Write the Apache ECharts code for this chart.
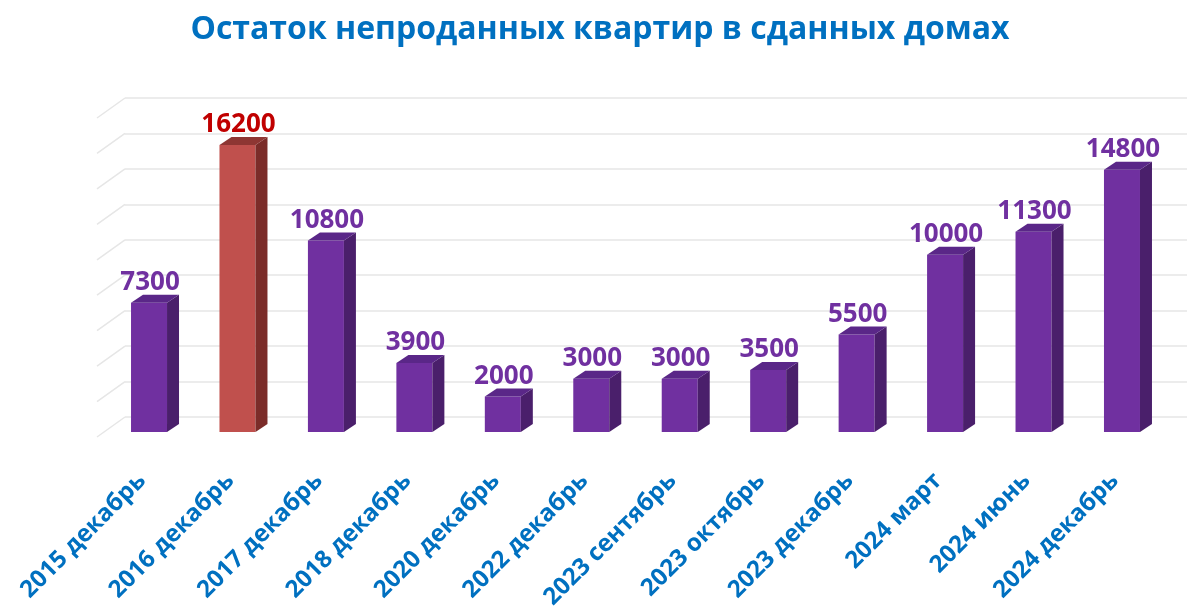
<!DOCTYPE html>
<html>
<head>
<meta charset="utf-8">
<script src="https://cdn.jsdelivr.net/npm/echarts@6/dist/echarts.min.js"></script>
<style>html,body{margin:0;padding:0;background:#fff}#c{width:1200px;height:616px}</style>
</head>
<body>
<div id="c"></div>
<script>
const categories = ['2015 декабрь','2016 декабрь','2017 декабрь','2018 декабрь','2020 декабрь','2022 декабрь','2023 сентябрь','2023 октябрь','2023 декабрь','2024 март','2024 июнь','2024 декабрь'];
const values = [7300,16200,10800,3900,2000,3000,3000,3500,5500,10000,11300,14800];
const highlightIndex = 1;
const gridTicks = [0,2000,4000,6000,8000,10000,12000,14000,16000,18000];

const FONT = '"Open Sans", "Noto Sans", sans-serif';
const purple = {front:'#7030a0', side:'#4a1f6b', top:'#5a2788', label:'#7030a0'};
const red = {front:'#c0504d', side:'#7b2c29', top:'#8e3633', label:'#c00000'};

const chart = echarts.init(document.getElementById('c'), null, {renderer:'canvas'});
chart.setOption({
  backgroundColor:'#ffffff',
  animation:false,
  title:{
    text:'Остаток непроданных квартир в сданных домах',
    left:'center', top:9,
    textStyle:{color:'#0070c0', fontSize:32, fontWeight:'bold', fontFamily:FONT}
  },
  grid:[
    {left:125, right:13, top:98, bottom:199, containLabel:false, outerBoundsMode:'none'},
    {left:104.8, right:33.8, top:113, bottom:184, containLabel:false, outerBoundsMode:'none'}
  ],
  xAxis:[
    {gridIndex:0, type:'value', min:0, max:1, show:false},
    {gridIndex:1, type:'category', data:categories,
     axisLine:{show:false}, axisTick:{show:false},
     axisLabel:{rotate:45, interval:0, margin:38, padding:[0,10,0,0], color:'#0070c0', fontSize:24, fontWeight:'bold', fontFamily:FONT}}
  ],
  yAxis:[
    {gridIndex:0, type:'value', min:0, max:18000, interval:2000,
     axisLine:{show:false}, axisTick:{show:false}, axisLabel:{show:false},
     splitLine:{lineStyle:{color:'#e6e6e6', width:1.5}}},
    {gridIndex:1, type:'value', min:0, max:18000, interval:2000, show:false, splitLine:{show:false}}
  ],
  series:[
    {
      type:'custom', xAxisIndex:0, yAxisIndex:0, silent:true, clip:false,
      data: gridTicks.map(v=>[0,v]),
      renderItem(params, api){
        const p = api.coord([0, api.value(1)]);
        return {type:'line', shape:{x1:p[0], y1:p[1], x2:p[0]-28, y2:p[1]+20},
          style:{stroke:'#e6e6e6', lineWidth:1.5}};
      }
    },
    {
      type:'custom', xAxisIndex:1, yAxisIndex:1, clip:false,
      data: values.map((v,i)=>[i,v]),
      renderItem(params, api){
        const i = api.value(0), v = api.value(1);
        const base = api.coord([i, 0]);
        const top = api.coord([i, v]);
        const x = base[0], y0 = base[1], y1 = top[1];
        const w = 36, dx = 12, dy = 8;
        const l = x - w/2, r = x + w/2;
        const c = i === highlightIndex ? red : purple;
        return {type:'group', children:[
          {type:'rect', shape:{x:l, y:y1, width:w, height:y0-y1}, style:{fill:c.front}},
          {type:'polygon', shape:{points:[[r,y1],[r+dx,y1-dy],[r+dx,y0-dy],[r,y0]]}, style:{fill:c.side}},
          {type:'polygon', shape:{points:[[l,y1],[l+dx,y1-dy],[r+dx,y1-dy],[r,y1]]}, style:{fill:c.top}},
          {type:'text', x:x+1, y:y1-dy+1, style:{text:String(v), fill:c.label, font:'bold 26px '+FONT, align:'center', verticalAlign:'bottom'}}
        ]};
      }
    }
  ]
});
</script>
</body>
</html>
